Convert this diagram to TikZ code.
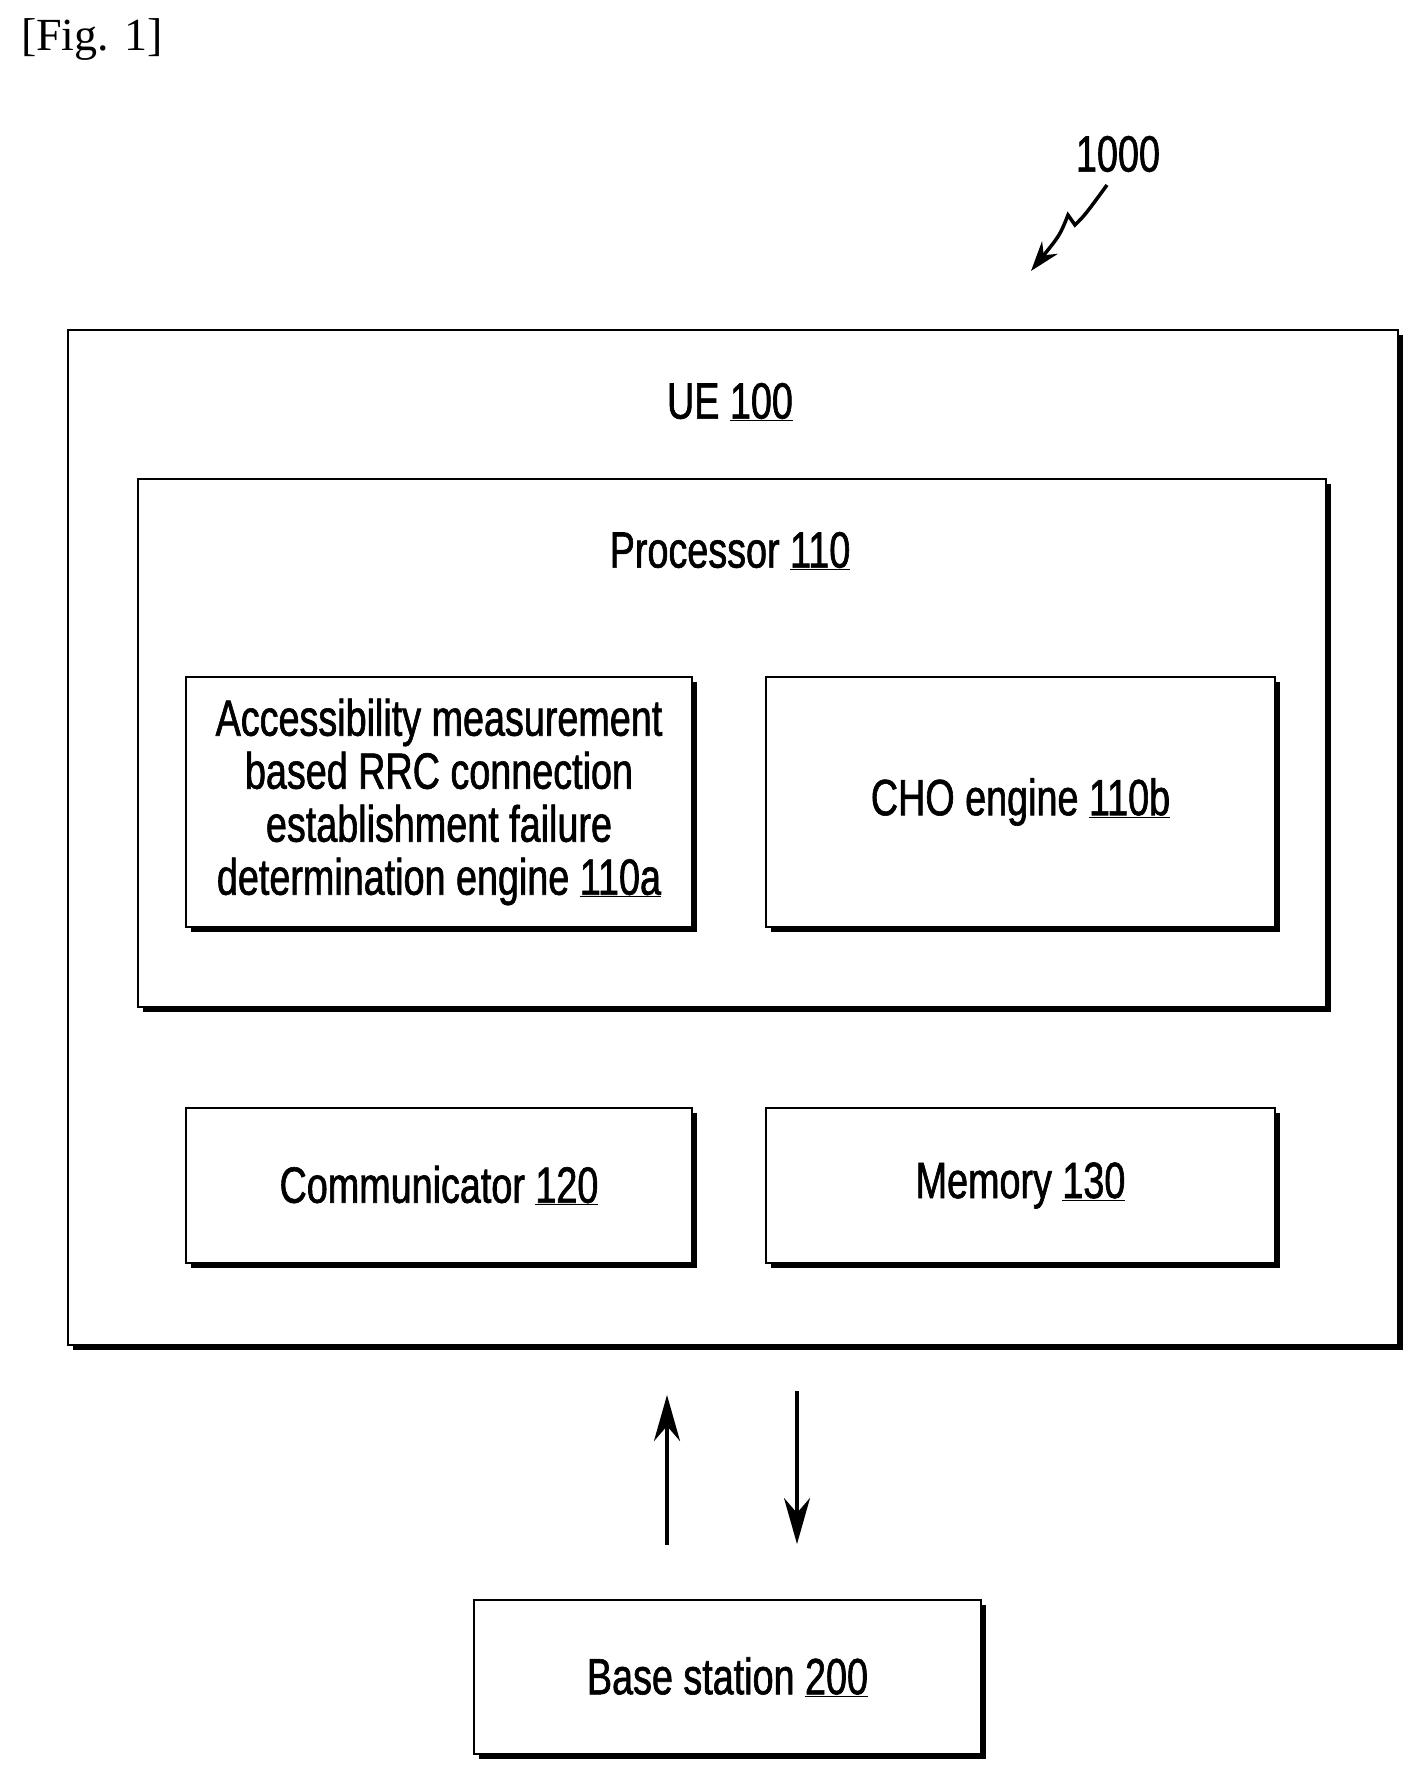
\documentclass[tikz,border=0pt]{standalone}
\usepackage{fontspec}
\setmainfont{Liberation Sans}[FakeStretch=0.74,FakeBold=1.2]
\newfontfamily\figfont{Liberation Serif}
\usetikzlibrary{arrows.meta}
\begin{document}
\begin{tikzpicture}[x=1pt,y=-1pt,
  lbl/.style={font=\fontsize{51}{53}\selectfont,align=center},
  arr/.style={line width=4pt,-{Stealth[length=46pt,width=26pt]}}]
\useasboundingbox (0,0) rectangle (1419,1775);
\node[font=\figfont\fontsize{46}{46}\selectfont] (fig) at (92,40) {[Fig. 1]};
\foreach \n/\a/\b/\c/\d in {ue/68/330/1398/1345, pr/138/479/1326/1007,
  a/186/677/692/927, b/766/677/1275/927, c/186/1108/692/1263,
  m/766/1108/1275/1263, bs/474/1600/981/1754}{
  \fill (\a+5,\b+5) rectangle (\c+5,\d+5);
  \draw[line width=2.8pt,fill=white] (\a,\b) rectangle (\c,\d);
  \coordinate (\n) at ({(\a+\c)/2},{(\b+\d)/2});
}
\node[lbl] (uel) at (730,402) {UE \underline{100}};
\node[lbl] (prl) at (730,551) {Processor \underline{110}};
\node[lbl] (al) at (a) {Accessibility measurement\\based RRC connection\\establishment failure\\determination engine \underline{110a}};
\node[lbl] (bl) at (b) {CHO engine \underline{110b}};
\node[lbl] (cl) at (c) {Communicator \underline{120}};
\node[lbl] (ml) at (m) {Memory \underline{130}};
\node[lbl] (bsl) at (bs) {Base station \underline{200}};
\node[lbl] (ref) at (1118,154) {1000};
\coordinate (u1) at (667,1545); \coordinate (u2) at (667,1395);
\coordinate (d1) at (797,1391); \coordinate (d2) at (797,1544);
\draw[arr] (u1) -- (u2);
\draw[arr] (d1) -- (d2);
\coordinate (z1) at (1107,185); \coordinate (z2) at (1031,271);
\draw[line width=3.5pt,-{Stealth[length=30pt,width=20pt]}] (z1) .. controls (1085,215) .. (1075,225) -- (1068,215) .. controls (1060,235) .. (z2);
\end{tikzpicture}
\end{document}
